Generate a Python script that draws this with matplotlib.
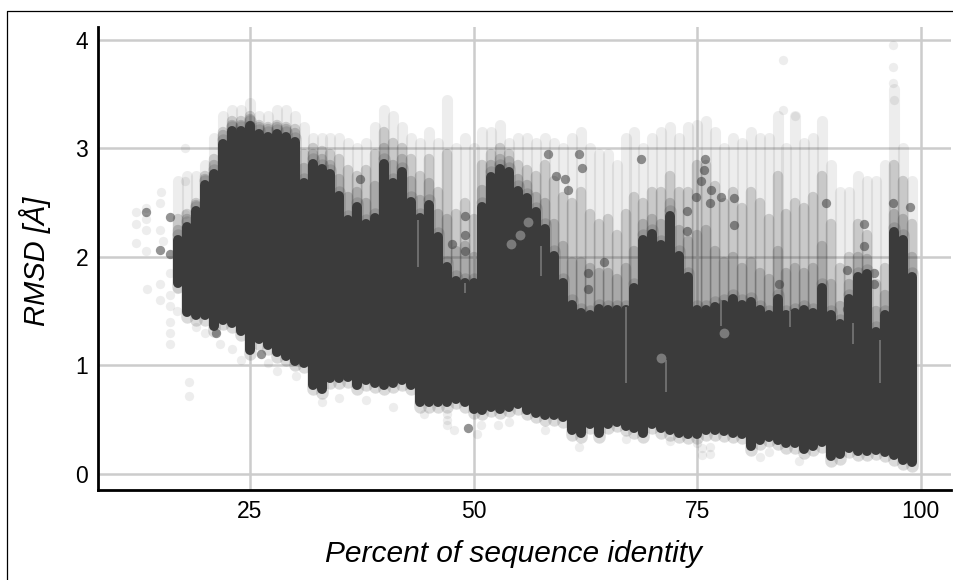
import matplotlib
matplotlib.use("Agg")
import matplotlib.pyplot as plt
from matplotlib.lines import Line2D

# ---
# DATA
# ---
identity = list(range(17, 100))
solid_top = [2.2, 2.32, 2.46, 2.7, 2.8, 3.08, 3.2, 3.2, 3.25, 3.17, 3.15, 3.17, 3.15, 3.1, 2.72, 2.9,
             2.85, 2.8, 2.6, 2.38, 2.5, 2.34, 2.4, 2.9, 2.72, 2.82, 2.55, 2.4, 2.52, 2.22, 1.95, 1.82,
             1.8, 1.8, 2.5, 2.78, 2.85, 2.82, 2.65, 2.58, 2.45, 2.3, 2.05, 1.8, 1.6, 1.52, 1.5, 1.56,
             1.55, 1.55, 1.55, 1.75, 2.2, 2.25, 2.15, 2.42, 2.05, 1.85, 1.55, 1.55, 1.58, 1.6, 1.65, 1.6,
             1.62, 1.55, 1.5, 1.65, 1.5, 1.52, 1.55, 1.52, 1.75, 1.5, 1.42, 1.65, 1.85, 1.88, 1.35, 1.5,
             2.27, 2.2, 1.85]
solid_low = [1.72, 1.45, 1.42, 1.42, 1.32, 1.38, 1.35, 1.28, 1.1, 1.2, 1.15, 1.08, 1.05, 1.0, 0.98, 0.78,
             0.74, 0.84, 0.84, 0.85, 0.78, 0.82, 0.8, 0.78, 0.8, 0.82, 0.78, 0.62, 0.62, 0.62, 0.62, 0.65,
             0.62, 0.56, 0.55, 0.58, 0.56, 0.58, 0.6, 0.55, 0.52, 0.5, 0.5, 0.48, 0.36, 0.34, 0.42, 0.34,
             0.42, 0.44, 0.4, 0.38, 0.34, 0.42, 0.38, 0.36, 0.34, 0.33, 0.33, 0.36, 0.36, 0.35, 0.34, 0.33,
             0.22, 0.27, 0.3, 0.27, 0.24, 0.24, 0.19, 0.22, 0.25, 0.12, 0.14, 0.2, 0.17, 0.17, 0.18, 0.16,
             0.13, 0.09, 0.07]
haze_top = [2.7, 2.75, 2.75, 2.85, 3.1, 3.3, 3.35, 3.35, 3.42, 3.3, 3.3, 3.35, 3.35, 3.3, 3.2, 3.1,
            3.1, 3.1, 3.1, 3.05, 3.0, 3.05, 3.2, 3.35, 3.3, 3.2, 3.1, 3.05, 3.15, 3.05, 3.45, 3.0,
            3.1, 3.0, 3.15, 3.15, 3.22, 3.05, 3.1, 3.1, 3.05, 3.1, 3.05, 3.0, 3.1, 3.15, 3.0, 2.95,
            2.95, 2.85, 3.1, 3.15, 3.0, 3.1, 3.15, 3.2, 3.1, 3.2, 3.22, 3.25, 3.15, 3.0, 3.1, 3.05,
            3.15, 3.1, 3.1, 3.3, 3.0, 3.3, 3.05, 3.1, 3.25, 2.85, 2.6, 2.6, 2.75, 2.7, 2.7, 2.85,
            3.55, 3.0, 2.7]
haze_mid = [2.35, 2.4, 2.5, 2.75, 2.9, 3.15, 3.25, 3.25, 3.3, 3.22, 3.2, 3.22, 3.2, 3.18, 2.95, 3.0,
            2.98, 2.95, 2.9, 2.8, 2.75, 2.8, 2.95, 3.15, 3.05, 3.0, 2.9, 2.75, 2.9, 2.6, 2.95, 2.4,
            2.5, 2.35, 2.85, 2.95, 3.0, 2.95, 2.85, 2.8, 2.75, 2.85, 2.7, 2.55, 2.5, 2.6, 2.4, 2.3,
            2.35, 2.2, 2.4, 2.55, 2.5, 2.6, 2.6, 2.75, 2.6, 2.6, 2.85, 2.85, 2.65, 2.5, 2.6, 2.45,
            2.6, 2.5, 2.35, 2.75, 2.4, 2.5, 2.45, 2.55, 2.75, 2.3, 1.9, 2.0, 2.3, 2.2, 1.75, 1.9,
            2.85, 2.7, 2.3]
haze_dense = [2.25, 2.35, 2.48, 2.72, 2.85, 3.12, 3.22, 3.22, 3.27, 3.2, 3.18, 3.2, 3.18, 3.14, 2.82, 2.95,
              2.9, 2.85, 2.72, 2.55, 2.6, 2.5, 2.65, 3.0, 2.85, 2.9, 2.7, 2.52, 2.68, 2.4, 2.35, 2.05,
              2.1, 2.0, 2.62, 2.85, 2.9, 2.88, 2.72, 2.66, 2.55, 2.5, 2.3, 2.1, 1.95, 1.95, 1.9, 1.85,
              1.85, 1.8, 1.9, 2.05, 2.3, 2.35, 2.3, 2.5, 2.25, 2.15, 2.2, 2.25, 2.05, 1.95, 2.0, 1.9,
              1.95, 1.85, 1.8, 2.05, 1.85, 1.9, 1.85, 1.9, 2.1, 1.75, 1.55, 1.75, 2.0, 1.98, 1.5, 1.65,
              2.4, 2.35, 2.0]

# dark blobs sticking out of the cloud
spot_x = [16, 16, 14.9, 13.4, 37.3, 49, 49, 49, 47.6, 58.3, 59.2, 60.2, 60.6, 61.8, 62.1, 62.8, 62.8, 64.6, 73.9, 73.9,
          77.7, 79.1, 79.1, 68.7, 75.9, 75.4, 76.6, 89.4, 91.8, 91.8, 93.7, 93.7, 94.8, 94.8, 96.9, 98.8, 25, 21.2, 26.2,
          49.4, 53.9, 75.8, 74.9, 76.5, 84.2]
spot_y = [2.03, 2.37, 2.06, 2.41, 2.72, 2.38, 2.2, 2.05, 2.12, 2.95, 2.75, 2.72, 2.62, 2.95, 2.82, 1.85, 1.7, 1.95, 2.42, 2.24,
          2.55, 2.54, 2.29, 2.9, 2.9, 2.7, 2.62, 2.5, 1.88, 1.52, 2.1, 2.3, 1.85, 1.75, 2.5, 2.46, 3.22, 1.3, 1.1,
          0.42, 2.75, 2.8, 2.55, 2.5, 1.75]

# faint single points outside the cloud
faint_x = [12.3, 12.3, 12.3, 13.4, 13.4, 13.4, 13.4, 14.9, 14.9, 14.9, 16, 16, 16, 17.7, 17.7, 15, 15.3, 13.5, 16, 16,
           18.2, 18.2, 18, 19, 20, 21.6, 23, 24, 27, 28, 30.2, 33, 35, 38, 41, 44.5, 47, 47, 47, 52.7,
           54, 58, 61.8, 67, 72, 75, 76.5, 76.5, 84.6, 84.6, 86, 96.9, 96.9, 96.9, 97, 75.6, 75.6, 82, 86.4, 47.8,
           50.4, 50.8, 83, 16.8, 16.8, 16, 17.7, 14.9]
faint_y = [2.41, 2.3, 2.13, 2.45, 2.35, 2.25, 2.05, 2.5, 1.75, 1.6, 1.85, 1.55, 1.3, 3.0, 2.7, 2.6, 2.15, 1.7, 1.4, 1.2,
           0.85, 0.72, 1.5, 1.35, 1.3, 1.2, 1.15, 1.05, 1.02, 0.95, 0.9, 0.66, 0.7, 0.68, 0.62, 0.55, 0.5, 0.55, 0.45, 0.45,
           0.48, 0.4, 0.25, 0.32, 0.3, 0.28, 0.18, 0.25, 3.82, 3.35, 3.3, 3.95, 3.75, 3.6, 3.45, 0.17, 0.24, 0.15, 0.12, 0.4,
           0.37, 0.45, 0.2, 1.5, 1.7, 1.65, 2.4, 2.25]

# lighter patches and slits inside the solid part
patch_x = [54.2, 55.2, 71, 78, 56.1]
patch_y = [2.12, 2.2, 1.07, 1.3, 2.32]
slit_x = [43.8, 57.6, 49, 67, 77.7, 85.4, 92.4, 95.5, 71.5]
slit_low = [1.91, 1.82, 1.67, 0.84, 1.36, 1.35, 1.2, 0.84, 0.75]
slit_high = [2.34, 2.1, 1.76, 1.54, 1.6, 1.5, 1.39, 1.23, 1.05]

xticks = [25, 50, 75, 100]
yticks = [0, 1, 2, 3, 4]

# ---
# PLOT
# ---
plt.rcParams["font.family"] = ["Liberation Sans", "DejaVu Sans"]
dark = "#3b3b3b"

fig = plt.figure(figsize=(9.54, 5.80), dpi=100)
ax = fig.add_axes([98 / 954, 90 / 580, 853 / 954, 463 / 580])
ax.set_xlim(8.0, 103.4)
ax.set_ylim(-0.15, 4.12)

ax.set_axisbelow(True)
ax.grid(True, color="#cccccc", lw=1.8)
ax.set_xticks(xticks)
ax.set_yticks(yticks)
ax.tick_params(length=0, labelsize=16.5, pad=7)
for side in ["top", "right"]:
    ax.spines[side].set_visible(False)
for side in ["left", "bottom"]:
    ax.spines[side].set_linewidth(2)

# haze above the solid part, wide lines so that neighbours blend
ax.vlines(identity, solid_top, haze_top, color=dark, alpha=0.09, lw=8, capstyle="round", zorder=2)
ax.vlines(identity, solid_top, haze_mid, color=dark, alpha=0.2, lw=7.5, capstyle="round", zorder=2)
ax.vlines(identity, solid_top, haze_dense, color=dark, alpha=0.22, lw=7.5, capstyle="round", zorder=2)
ax.scatter(faint_x, faint_y, s=45, color=dark, alpha=0.09, lw=0, zorder=2)
ax.scatter(spot_x, spot_y, s=45, color=dark, alpha=0.55, lw=0, zorder=3)

# soft rim and solid part of the cloud
ax.vlines(identity, solid_low, solid_top, color=dark, alpha=0.18, lw=9, capstyle="round", zorder=3)
ax.vlines(identity, [v + 0.04 for v in solid_low], [v - 0.04 for v in solid_top],
          color=dark, lw=7.2, capstyle="round", zorder=4)

ax.vlines(slit_x, slit_low, slit_high, color="#6e6e6e", lw=1.4, zorder=5)
ax.scatter(patch_x, patch_y, s=50, color="#7a7a7a", lw=0, zorder=5)

ax.set_xlabel("Percent of sequence identity", fontsize=21.5, style="italic")
ax.xaxis.set_label_coords((514 - 98) / 853, -0.109)
ax.set_ylabel("RMSD [Å]", fontsize=21, style="italic")
ax.yaxis.set_label_coords(-0.055, (490 - 261) / 463)

# thin frame of the source image
fig.add_artist(Line2D([7 / 954, 7 / 954, 1], [0, 569 / 580, 569 / 580], color="black", lw=0.9))

fig.savefig("out.png", dpi=100)
